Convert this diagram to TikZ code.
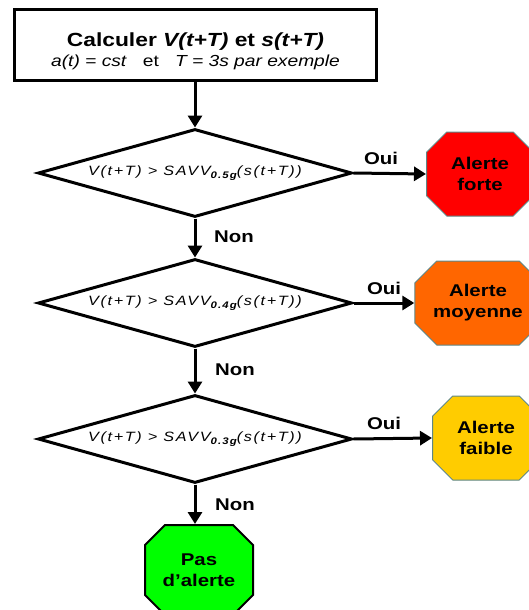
\documentclass[tikz,border=0pt]{standalone}
\usepackage{fontspec}
\setmainfont{Liberation Sans}[FakeStretch=1.2]
\newfontfamily\condfont{Liberation Sans}[FakeStretch=1.2,LetterSpace=12]
\usetikzlibrary{shapes.geometric,shapes.misc,arrows.meta}
\definecolor{alarmred}{RGB}{255,0,0}
\definecolor{alarmorange}{RGB}{255,102,0}
\definecolor{alarmyellow}{RGB}{255,204,0}
\definecolor{okgreen}{RGB}{0,255,0}
\definecolor{rim}{RGB}{95,135,135}
\newcommand{\sav}[1]{SAVV\raisebox{-3.2pt}{\fontsize{9.5}{9.5}\selectfont\bfseries #1}}
\tikzset{
  flow/.style={line width=3pt,-{Triangle[length=12pt,width=14pt]}},
  decision/.style={diamond,draw,line width=3pt,minimum width=314pt,
    minimum height=88pt,inner sep=0pt,aspect=3.5,
    font=\condfont\fontsize{13.5}{15}\selectfont\itshape},
  alarm/.style={chamfered rectangle,chamfered rectangle xsep=25pt,
    draw=rim,line width=1pt,minimum width=107pt,minimum height=84pt,
    inner sep=0pt,align=center,
    font=\fontsize{17}{21}\selectfont\bfseries},
  answer/.style={font=\fontsize{17}{20}\selectfont\bfseries,inner sep=0pt}
}
\begin{document}
\begin{tikzpicture}[x=1pt,y=-1pt]
\useasboundingbox (0,0) rectangle (529,610);

% start box
\node[draw,line width=3pt,minimum width=362pt,minimum height=71pt,inner sep=0pt]
  (start) at (195.5,45) {};
\node[anchor=base,inner sep=0pt,font=\fontsize{19}{22}\selectfont\bfseries]
  (l1) at (195.5,46.7) {Calculer \textit{V(t+T)} et \textit{s(t+T)}};
\node[anchor=base,inner sep=0pt,font=\fontsize{16}{18}\selectfont]
  (l2) at (195.5,66.7) {\textit{a(t) = cst}\quad et\quad \textit{T = 3s par exemple}};

% tests
\node[decision] (d1) at (195,173) {V(t+T) > \sav{0.5g}(s(t+T))};
\node[decision] (d2) at (195,303) {V(t+T) > \sav{0.4g}(s(t+T))};
\node[decision] (d3) at (195,439) {V(t+T) > \sav{0.3g}(s(t+T))};

% outcomes
\node[alarm,fill=alarmred] (a1) at (480,174) {Alerte\\forte};
\node[alarm,fill=alarmorange] (a2) at (478,303) {Alerte\\moyenne};
\node[alarm,fill=alarmyellow] (a3) at (486,438) {Alerte\\faible};
\node[alarm,fill=okgreen,draw=black,line width=2pt,minimum width=108pt,
  minimum height=90pt] (ok) at (199,570) {Pas\\d'alerte};

% connectors
\draw[flow] (start.south -| d1.north) -- (d1.north);
\draw[flow] (d1.east) -- (a1.west);
\draw[flow] (d2.east) -- (a2.west);
\draw[flow] (d3.east) -- (a3.west);
\draw[flow] (d1.south) -- (d2.north);
\draw[flow] (d2.south) -- (d3.north);
\draw[flow] (d3.south) -- (d3.south |- ok.north);

% branch labels
\node[answer] (y1) at (381,158) {Oui};
\node[answer] (y2) at (384,288) {Oui};
\node[answer] (y3) at (384,423) {Oui};
\node[answer] (n1) at (234,237) {Non};
\node[answer] (n2) at (235,370) {Non};
\node[answer] (n3) at (235,505) {Non};
\end{tikzpicture}
\end{document}
